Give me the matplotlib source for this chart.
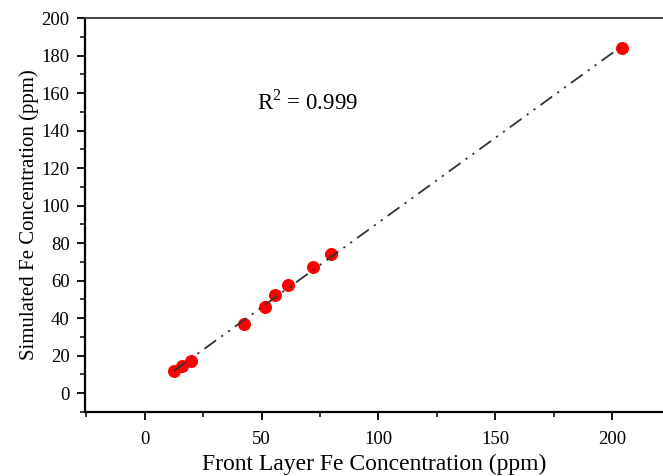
import numpy as np
import matplotlib
matplotlib.use("Agg")
import matplotlib.pyplot as plt
from matplotlib.ticker import MultipleLocator

front_fe = [12.4, 15.8, 19.7, 42.4, 51.4, 55.7, 61.2, 71.9, 79.7, 204.3]
simulated_fe = [11.7, 14.4, 17.1, 36.8, 45.9, 52.3, 57.6, 67.2, 74.1, 184.0]
r2_text = r"R$^2$ = 0.999"
x_ticks = [0, 50, 100, 150, 200]
y_ticks = [0, 20, 40, 60, 80, 100, 120, 140, 160, 180, 200]

plt.rcParams['font.family'] = ['Liberation Serif', 'DejaVu Serif']
plt.rcParams['mathtext.fontset'] = 'custom'
plt.rcParams['mathtext.rm'] = 'Liberation Serif'

fig = plt.figure(figsize=(6.63, 4.76), dpi=100)
ax = fig.add_axes([0.128, 0.1345, 0.872, 0.8275])

x = np.array(front_fe)
y = np.array(simulated_fe)
b, a = np.polyfit(x, y, 1)
xl = np.array([x.min(), x.max()])
ax.scatter(x, y, s=70, color='#ff0000', edgecolors='#ff0000', zorder=2)
ax.plot(xl, a + b * xl, color='#333333', lw=1.3,
        linestyle=(0, (8, 3.5, 1.2, 3.5, 1.2, 3.5)), zorder=3)

ax.text(48.0, 155, r2_text, fontsize=16.5, ha='left', va='center')

ax.set_xlim(-25.7, 221.8)
ax.set_ylim(-10.1, 200)
ax.set_xticks(x_ticks)
ax.set_yticks(y_ticks)
ax.xaxis.set_minor_locator(MultipleLocator(25))
ax.yaxis.set_minor_locator(MultipleLocator(10))
ax.tick_params(which='major', direction='out', length=6, width=1.3, labelsize=13.5, colors='black')
ax.tick_params(which='minor', direction='out', length=3.5, width=1.1)
ax.tick_params(axis='x', pad=8)
ax.tick_params(axis='y', pad=5)

for s in ['left', 'bottom']:
    ax.spines[s].set_linewidth(1.6)
    ax.spines[s].set_color('black')
ax.spines['top'].set_linewidth(1.4)
ax.spines['top'].set_color('#444444')
ax.spines['right'].set_visible(False)

ax.set_xlabel('Front Layer Fe Concentration (ppm)', fontsize=17, labelpad=4)
ax.set_ylabel('Simulated Fe Concentration (ppm)', fontsize=15, labelpad=2)

fig.savefig('out.png', dpi=100)
